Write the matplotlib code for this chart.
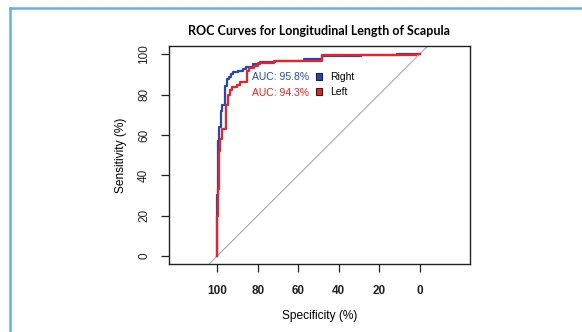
import matplotlib
matplotlib.use('Agg')
import matplotlib.pyplot as plt
from matplotlib.lines import Line2D
from matplotlib.patches import Patch

# ROC vertices (specificity %, sensitivity %), drawn as steps
right_spec = [100, 99.6, 99.0, 98.4, 97.6, 96.4, 96.0, 95.0, 94.0, 93.0, 92.3, 90.0,
              87.2, 85.6, 82.3, 79.0, 71.5, 57.0, 48.4, 29.0, 11.0, 0.0]
right_sens = [0, 30, 57, 64, 72, 75, 81, 84, 87.7, 88.5, 90, 91.3,
              91.8, 92.6, 93.9, 95.1, 95.9, 96.7, 97.5, 99.1, 99.5, 100]

left_spec = [100, 99.8, 99.3, 98.7, 97.5, 95.6, 94.5, 93.8, 92.5, 90.5, 88.9, 85.5,
             84.5, 82.0, 80.0, 72.0, 48.4, 1.5, 0.0]
left_sens = [0, 20, 33, 52, 58, 63, 75, 80, 82.5, 83.5, 84.7, 86,
             91.8, 93.4, 94.2, 95.6, 96.7, 99.6, 100]

groups = ['Right', 'Left']
auc = [95.8, 94.3]
colors = ['#2548b8', '#ee1f25']

x_ticks = [100, 80, 60, 40, 20, 0]
y_ticks = [0, 20, 40, 60, 80, 100]

plt.rcParams['font.family'] = ['Liberation Sans', 'DejaVu Sans']

fig = plt.figure(figsize=(5.82, 3.32), dpi=100)
ax = fig.add_axes([0.290, 0.205, 0.517, 0.656])

ax.axline((100, 0), (0, 100), color='#a8a8a8', lw=0.8, zorder=1)
ax.plot(right_spec, right_sens, drawstyle='steps-pre', color=colors[0], lw=1.6, zorder=2)
ax.plot(left_spec, left_sens, drawstyle='steps-pre', color=colors[1], lw=1.6, zorder=3)

ax.set_xlim(124, -24.8)
ax.set_ylim(-4, 104)
ax.set_xticks(x_ticks)
ax.set_yticks(y_ticks)
ax.tick_params(direction='out', length=5.5, width=0.9, colors='#222222', labelsize=8.5)
ax.tick_params(axis='x', pad=10)
ax.tick_params(axis='y', pad=8)
for lab in ax.get_yticklabels():
    lab.set_rotation(90)
    lab.set_va('center')
for lab in ax.get_xticklabels():
    lab.set_fontweight('bold')
for s in ax.spines.values():
    s.set_linewidth(1.0)
    s.set_color('#222222')

ax.set_xlabel('Specificity (%)', fontsize=8.6, labelpad=9)
ax.set_ylabel('Sensitivity (%)', fontsize=8.6, labelpad=8)
ax.set_title('ROC Curves for Longitudinal Length of Scapula', fontsize=9,
             fontweight='bold', family=['Lato', 'DejaVu Sans'], pad=8)

# AUC labels + legend squares
for i, (g, a) in enumerate(zip(groups, auc)):
    ax.text(0.467, 0.858 - i * 0.072, f'AUC: {a}%', transform=ax.transAxes,
            ha='right', va='center', fontsize=7.5, color=colors[i])
handles = [Patch(facecolor=c, edgecolor='#222222', lw=0.8) for c in colors]
ax.legend(handles, groups, loc='center left', bbox_to_anchor=(0.49, 0.823),
          frameon=False, fontsize=7.5, handlelength=0.6, handleheight=0.6,
          handletextpad=0.7, labelspacing=0.45, borderpad=0, borderaxespad=0)

# light blue page frame
fig.add_artist(Line2D([10 / 582, 10 / 582], [0, 1 - 8 / 332], color='#6aaee2', lw=1.8))
fig.add_artist(Line2D([10 / 582, 1], [1 - 8 / 332, 1 - 8 / 332], color='#6aaee2', lw=1.8))

fig.savefig('out.png', dpi=100)
